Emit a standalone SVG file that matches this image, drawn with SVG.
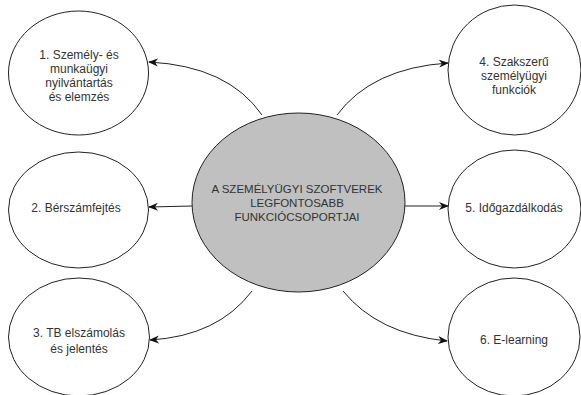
<svg xmlns="http://www.w3.org/2000/svg" width="581" height="395" viewBox="0 0 581 395">
  <defs>
    <marker id="arrow" viewBox="0 0 10 10" refX="9" refY="5" markerWidth="10" markerHeight="10" markerUnits="userSpaceOnUse" orient="auto">
      <path d="M0,1 L10,5 L0,9 L3,5 Z" fill="#111"/>
    </marker>
  </defs>
  <style>
    .node { fill: #ffffff; stroke: #222; stroke-width: 1; }
    .hub { fill: #c0c0c0; stroke: #222; stroke-width: 1; }
    .lbl { font-family: "Liberation Sans", Arial, sans-serif; font-size: 12px; fill: #333; text-anchor: middle; }
    .hubl { font-family: "Liberation Sans", Arial, sans-serif; font-size: 11.5px; fill: #333; text-anchor: middle; }
    .edge { fill: none; stroke: #222; stroke-width: 1; marker-end: url(#arrow); }
  </style>
  <rect width="581" height="395" fill="#ffffff"/>

  <g id="connectors">
    <path class="edge" d="M262,115 Q228,66 149,62"/>
    <path class="edge" d="M192,206 L149,207"/>
    <path class="edge" d="M252,291 Q218,336 150,340"/>
    <path class="edge" d="M337,115 Q372,68 448,63"/>
    <path class="edge" d="M405,206 L448,206"/>
    <path class="edge" d="M343,291 Q378,334 447,341"/>
  </g>

  <g id="hub">
    <ellipse class="hub" cx="298.5" cy="202.5" rx="106.5" ry="89.5"/>
    <text class="hubl" x="297" y="193">A SZEMÉLYÜGYI SZOFTVEREK</text>
    <text class="hubl" x="297" y="207">LEGFONTOSABB</text>
    <text class="hubl" x="297" y="221">FUNKCIÓCSOPORTJAI</text>
  </g>

  <g id="node1">
    <ellipse class="node" cx="78.5" cy="73" rx="70" ry="62"/>
    <text class="lbl" x="79" y="59">1. Személy- és</text>
    <text class="lbl" x="79" y="73">munkaügyi</text>
    <text class="lbl" x="79" y="87">nyilvántartás</text>
    <text class="lbl" x="79" y="101">és elemzés</text>
  </g>

  <g id="node2">
    <ellipse class="node" cx="78.5" cy="210" rx="70" ry="58"/>
    <text class="lbl" x="76" y="212">2. Bérszámfejtés</text>
  </g>

  <g id="node3">
    <ellipse class="node" cx="79" cy="337" rx="70.5" ry="59"/>
    <text class="lbl" x="79" y="337">3. TB elszámolás</text>
    <text class="lbl" x="79" y="353">és jelentés</text>
  </g>

  <g id="node4">
    <ellipse class="node" cx="514.5" cy="70" rx="66.5" ry="65"/>
    <text class="lbl" x="514" y="66">4. Szakszerű</text>
    <text class="lbl" x="514" y="80">személyügyi</text>
    <text class="lbl" x="514" y="94">funkciók</text>
  </g>

  <g id="node5">
    <ellipse class="node" cx="514.5" cy="209" rx="66.5" ry="59"/>
    <text class="lbl" x="514" y="212">5. Időgazdálkodás</text>
  </g>

  <g id="node6">
    <ellipse class="node" cx="514" cy="337" rx="66" ry="59"/>
    <text class="lbl" x="514" y="344">6. E-learning</text>
  </g>
</svg>
